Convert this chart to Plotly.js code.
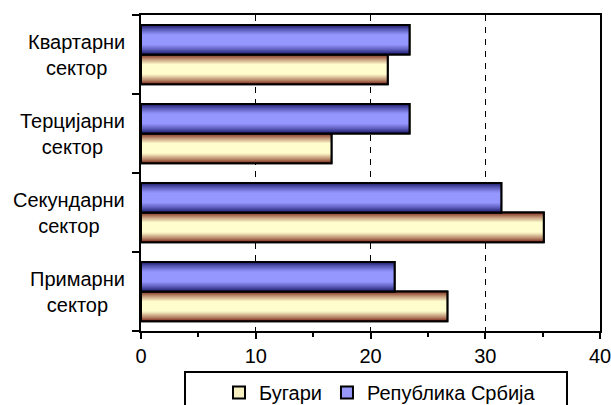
<!DOCTYPE html>
<html>
<head>
<meta charset="utf-8">
<script src="https://cdn.plot.ly/plotly-3.0.1.min.js"></script>
<style>html,body{margin:0;padding:0;background:#fff;}#chart{width:611px;height:405px;}</style>
</head>
<body>
<div id="chart"></div>
<script>
// Data (bottom to top)
var categories = ["Примарни<br>сектор", "Секундарни<br>сектор", "Терцијарни<br>сектор", "Квартарни<br>сектор"];
var bugari = [26.7, 35.1, 16.6, 21.5];
var srbija = [22.1, 31.4, 23.4, 23.4];
var seriesNames = ["Бугари", "Република Србија"];
var xTicks = [0, 10, 20, 30, 40];

var FONT = "Arial, 'Liberation Sans', sans-serif";
var FS = 20;
var pos = categories.map(function (c, i) { return i; });
var SLOT = 0.375;

function mix(a, b, t) {
  return 'rgb(' + [0, 1, 2].map(function (i) { return Math.round(a[i] + (b[i] - a[i]) * t); }).join(',') + ')';
}

var series = [
  {name: seriesNames[0], x: bugari, off: -SLOT, dark: [125, 40, 25], light: [255, 252, 205], legend: '#f6efc0'},
  {name: seriesNames[1], x: srbija, off: 0, dark: [25, 25, 105], light: [150, 150, 255], legend: '#9898f8'}
];

var traces = [];
var N = 14;
series.forEach(function (s) {
  traces.push({type: 'bar', orientation: 'h', name: s.name, x: s.x, y: pos,
    offset: s.off, width: SLOT,
    marker: {color: s.legend, line: {color: '#000', width: 2}},
    showlegend: true, hoverinfo: 'skip'});
  for (var k = 0; k < N; k++) {
    var w = SLOT * (1 - k / N);
    var d = (k / N) / 2;
    var t = Math.min(1, d / 0.32);
    t = Math.pow(t, 0.8);
    traces.push({type: 'bar', orientation: 'h', x: s.x, y: pos,
      offset: s.off + (SLOT - w) / 2, width: w,
      marker: {color: mix(s.dark, s.light, t), line: {width: 0}},
      showlegend: false, hoverinfo: 'skip'});
  }
  traces.push({type: 'bar', orientation: 'h', x: s.x, y: pos,
    offset: s.off, width: SLOT,
    marker: {color: 'rgba(0,0,0,0)', line: {color: '#000', width: 2}},
    showlegend: false, hoverinfo: 'skip'});
});

var annotations = categories.map(function (c, i) {
  return {xref: 'paper', yref: 'y', x: 0, y: i, xshift: -14, xanchor: 'right', yanchor: 'middle',
    align: 'center', text: c, showarrow: false, font: {family: FONT, size: FS, color: '#000'}};
});

// plot area: x 141..600, y 15..331 (px)
function px2x(p) { return (p - 141) / 459; }
function px2y(p) { return (331 - p) / 316; }

var layout = {
  width: 611, height: 405,
  margin: {l: 141, r: 11, t: 15, b: 74, autoexpand: false},
  paper_bgcolor: '#fff', plot_bgcolor: '#fff',
  font: {family: FONT, size: FS, color: '#000'},
  barmode: 'overlay',
  xaxis: {range: [0, 40], tickvals: xTicks, ticktext: xTicks.map(String),
    ticks: 'outside', ticklen: 6, tickwidth: 2, tickcolor: '#000', ticklabeloverflow: 'allow',
    minor: {dtick: 5, ticks: 'outside', ticklen: 4, tickwidth: 2, tickcolor: '#000', showgrid: false},
    showgrid: true, gridcolor: '#000', gridwidth: 1, griddash: '6px,6px',
    zeroline: false, showline: true, mirror: true, linecolor: '#000', linewidth: 2,
    tickfont: {family: FONT, size: FS, color: '#000'}, fixedrange: true},
  yaxis: {range: [-0.5, 3.5], tickvals: [-0.5, 0.5, 1.5, 2.5, 3.5], showticklabels: false,
    ticks: 'outside', ticklen: 7, tickwidth: 2, tickcolor: '#000',
    showgrid: false, zeroline: false, showline: true, mirror: true, linecolor: '#000', linewidth: 2, fixedrange: true},
  showlegend: true,
  legend: {orientation: 'h', x: px2x(219), xanchor: 'left', y: px2y(373), yanchor: 'top',
    borderwidth: 0, bgcolor: 'rgba(0,0,0,0)',
    font: {family: FONT, size: FS, color: '#000'}, traceorder: 'normal'},
  shapes: [{type: 'rect', xref: 'paper', yref: 'paper', x0: px2x(185), x1: px2x(567), y0: px2y(372), y1: px2y(420),
    line: {color: '#000', width: 2}, fillcolor: 'rgba(0,0,0,0)', layer: 'above'}],
  annotations: annotations
};

Plotly.newPlot('chart', traces, layout, {displayModeBar: false, staticPlot: true});
</script>
</body>
</html>
